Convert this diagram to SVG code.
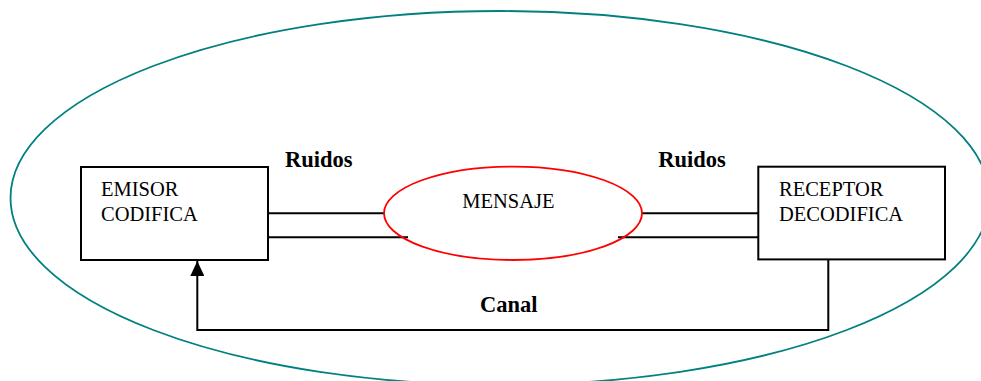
<svg xmlns="http://www.w3.org/2000/svg" width="981" height="381" viewBox="0 0 981 381">
<style>
.box{fill:#fff;stroke:#000;stroke-width:2}
.ln{fill:none;stroke:#000;stroke-width:2}
.t{font-family:"Liberation Serif","Times New Roman",serif;font-size:20.5px;fill:#000}
.b{font-family:"Liberation Serif","Times New Roman",serif;font-size:22.5px;font-weight:bold;fill:#000}
</style>
<defs>
<marker id="arr" viewBox="0 0 15 14" refX="15" refY="7" markerWidth="15" markerHeight="14" markerUnits="userSpaceOnUse" orient="auto">
<polygon points="0,0 15,7 0,14" fill="#000"/>
</marker>
</defs>
<rect width="981" height="381" fill="#fff"/>
<g id="canal-ambito">
<ellipse cx="500" cy="198" rx="489.5" ry="187" fill="none" stroke="#008080" stroke-width="1.8"/>
</g>
<g id="connectors">
<line class="ln" x1="268" y1="213.3" x2="385" y2="213.3"/>
<line class="ln" x1="268" y1="237.3" x2="408" y2="237.3"/>
<line class="ln" x1="642" y1="213.3" x2="758" y2="213.3"/>
<line class="ln" x1="618" y1="237.3" x2="758" y2="237.3"/>
<path class="ln" d="M828.3 260 V330 H197.3 V261" marker-end="url(#arr)"/>
</g>
<g id="emisor">
<rect class="box" x="81" y="167" width="187" height="93"/>
<text class="t" x="101" y="195.7">EMISOR</text>
<text class="t" x="101" y="221">CODIFICA</text>
</g>
<g id="mensaje">
<ellipse cx="513" cy="213.3" rx="129" ry="46.7" fill="none" stroke="#ff0000" stroke-width="1.8"/>
<text class="t" x="462.3" y="208.3">MENSAJE</text>
</g>
<g id="receptor">
<rect class="box" x="758.3" y="166.7" width="186.7" height="92.7"/>
<text class="t" x="779" y="195.7">RECEPTOR</text>
<text class="t" x="779" y="221">DECODIFICA</text>
</g>
<g id="labels">
<text class="b" x="285" y="166.7">Ruidos</text>
<text class="b" x="658.3" y="166.7">Ruidos</text>
<text class="b" x="480" y="311.7">Canal</text>
</g>
</svg>
